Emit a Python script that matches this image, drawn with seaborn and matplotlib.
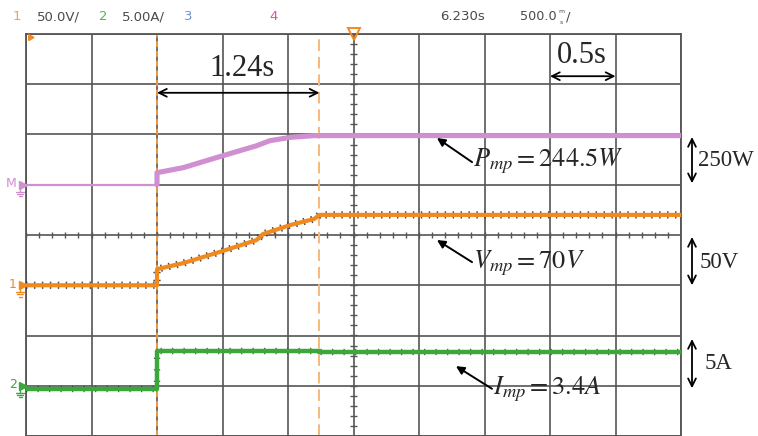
import numpy as np
import pandas as pd
import matplotlib
matplotlib.use("Agg")
import matplotlib.pyplot as plt
import seaborn as sns

# ---- captured waveforms (time in seconds, 500 ms/div) ----
t_power = [0.0, 1.0, 1.0, 1.2, 1.5, 1.76, 1.86, 2.02, 2.2, 5.0]
p_watt = [0, 0, 60, 85, 144, 194, 219, 236, 244.5, 244.5]

t_volt = [0.0, 1.0, 1.0, 1.2, 1.5, 1.76, 1.81, 2.02, 2.2, 2.24, 5.0]
v_volt = [0, 0, 16, 22, 34, 45, 51, 60, 66, 70, 70]

t_curr = [0.0, 1.0, 1.0, 2.24, 2.24, 5.0]
i_amp = [-0.3, -0.3, 3.5, 3.5, 3.4, 3.4]

cursor_times = [1.0, 2.24]

# vertical settings: units per division and ground-marker position (div)
power_scale, power_offset = 250.0, 1.0
volt_scale, volt_offset = 50.0, -1.0
curr_scale, curr_offset = 5.0, -3.0

header_items = [("1", "50.0V/"), ("2", "5.00A/"), ("3", ""), ("4", "")]
time_pos, time_base = "6.230s", "500.0"

C_PINK = "#cf8fd0"
C_ORANGE = "#f08a1e"
C_GREEN = "#3aa83a"
C_GRID = "#555555"


def to_div(values, scale, offset):
    return [v / scale + offset for v in values]


df_p = pd.DataFrame({"t": t_power, "div": to_div(p_watt, power_scale, power_offset)})
df_v = pd.DataFrame({"t": t_volt, "div": to_div(v_volt, volt_scale, volt_offset)})
df_i = pd.DataFrame({"t": t_curr, "div": to_div(i_amp, curr_scale, curr_offset)})

sns.set_style("white")
plt.rcParams["mathtext.fontset"] = "stix"
plt.rcParams["font.family"] = ["DejaVu Sans"]

fig = plt.figure(figsize=(7.58, 4.36), dpi=100)
ax = fig.add_axes([26 / 758, 0.0, 655 / 758, 402 / 436])
ax.set_xlim(0, 5)
ax.set_ylim(-4, 4)

# graticule
ax.set_xticks(np.arange(0, 5.01, 0.5))
ax.set_yticks(np.arange(-4, 4.01, 1))
ax.grid(True, color=C_GRID, lw=1.2)
ax.tick_params(length=0, labelbottom=False, labelleft=False)
for s in ax.spines.values():
    s.set_color(C_GRID)
    s.set_linewidth(1.3)
ax.set_axisbelow(True)

# minor ticks on centre lines
xt = np.arange(0, 5.001, 0.1)
ax.vlines(xt, -0.06, 0.06, color=C_GRID, lw=1.0, zorder=1)
yt = np.arange(-4, 4.001, 0.2)
ax.hlines(yt, 2.5 - 0.025, 2.5 + 0.025, color=C_GRID, lw=1.0, zorder=1)

# cursors
ax.axvline(cursor_times[0], color="#f0993a", ls=(0, (3, 2)), lw=1.4, zorder=2)
ax.axvline(cursor_times[1], color="#f8b87a", ls=(0, (6, 3)), lw=1.4, zorder=2)

# math channel (power)
sns.lineplot(data=df_p.iloc[:2], x="t", y="div", color=C_PINK, lw=1.6,
             estimator=None, sort=False, ax=ax, zorder=3)
sns.lineplot(data=df_p.iloc[1:], x="t", y="div", color=C_PINK, lw=3.7,
             estimator=None, sort=False, ax=ax, zorder=3)

# channel 1 (voltage): dark sample fringe under the trace
sns.lineplot(data=df_v, x="t", y="div", color="#2a2a2a", lw=5.2, alpha=0.85,
             estimator=None, sort=False, ax=ax, zorder=3,
             linestyle=(0, (0.2, 0.9)))
sns.lineplot(data=df_v, x="t", y="div", color=C_ORANGE, lw=3.0,
             estimator=None, sort=False, ax=ax, zorder=4)

# channel 2 (current)
sns.lineplot(data=df_i, x="t", y="div", color="#2a2a2a", lw=4.6, alpha=0.8,
             estimator=None, sort=False, ax=ax, zorder=3,
             linestyle=(0, (0.2, 1.6)))
sns.lineplot(data=df_i, x="t", y="div", color=C_GREEN, lw=3.2,
             estimator=None, sort=False, ax=ax, zorder=4)
ax.set_xlabel("")
ax.set_ylabel("")

# ground markers at the left edge
px_t, px_d = 1 / 131.0, 1 / 50.25
for lbl, off, col in [("M", power_offset, C_PINK), ("1", volt_offset, C_ORANGE),
                      ("2", curr_offset, C_GREEN)]:
    ax.plot([-0.02], [off], marker=">", color=col, ms=6, clip_on=False, zorder=5)
    ax.text(-0.07, off + 0.02, lbl, color=col, fontsize=9, ha="right", va="center",
            clip_on=False)
    # earth symbol
    gx = -0.045
    ax.plot([gx, gx], [off - 1 * px_d, off - 7 * px_d], color=col, lw=1.0, clip_on=False)
    for k, half in enumerate([4, 2.7, 1.4]):
        yy = off - (7 + 2.2 * k) * px_d
        ax.plot([gx - half * px_t, gx + half * px_t], [yy, yy], color=col, lw=1.0,
                clip_on=False)

# trigger position and top-left marker
ax.plot([2.5], [4.0], marker="v", mfc="none", mec=C_ORANGE, ms=8, mew=1.4,
        clip_on=False, zorder=5)
ax.plot([0.03], [3.95], marker=(3, 0, 30), color=C_ORANGE, ms=5, clip_on=False, zorder=5)

# header line
hy = 1 - 17 / 436
header_x = [(17, 37), (103, 122), (188, None), (274, None)]
header_col = ["#f0a050", "#4cbb4c", "#6f8fd0", "#e2509f"]
for (num, txt), (xn, xt_), col in zip(header_items, header_x, header_col):
    fig.text(xn / 758, hy, num, color=col, fontsize=9.5, ha="center", va="center")
    if txt:
        fig.text(xt_ / 758, hy, txt, color="#4a4a4a", fontsize=9.5, ha="left", va="center")
fig.text(440 / 758, hy, time_pos, color="#4a4a4a", fontsize=9.5, ha="left", va="center")
fig.text(520 / 758, hy, time_base, color="#4a4a4a", fontsize=9.2, ha="left", va="center")
fig.text(561.5 / 758, hy + 0.013, "m", color="#4a4a4a", fontsize=4.5, ha="center", va="center")
fig.text(561.5 / 758, hy - 0.012, "s", color="#4a4a4a", fontsize=4.5, ha="center", va="center")
fig.text(565.5 / 758, hy, "/", color="#4a4a4a", fontsize=9.5, ha="left", va="center")

# time span annotations
serif = "Liberation Serif"
arrow2 = dict(arrowstyle="<->", color="black", lw=1.3, shrinkA=0, shrinkB=0,
              mutation_scale=14)
span = cursor_times[1] - cursor_times[0]
ax.annotate("", xy=(cursor_times[0], 2.83), xytext=(cursor_times[1], 2.83),
            arrowprops=arrow2, annotation_clip=False)
ax.text((cursor_times[0] + cursor_times[1]) / 2 + 0.03, 3.32, f"{span:.2f}s",
        family=serif, fontsize=22, ha="center", va="center")
ax.annotate("", xy=(4.0, 3.16), xytext=(4.5, 3.16), arrowprops=arrow2,
            annotation_clip=False)
ax.text(4.24, 3.57, "0.5s", family=serif, fontsize=22, ha="center", va="center")

# value call-outs
arrow1 = dict(arrowstyle="-|>", color="black", lw=1.4, shrinkA=0, shrinkB=0,
              mutation_scale=12)
p_mp, v_mp, i_mp = p_watt[-1], v_volt[-1], i_amp[-1]
ax.annotate("", xy=(3.137, 1.93), xytext=(3.405, 1.45), arrowprops=arrow1)
ax.text(3.41, 1.47, rf"$P_{{mp}}=%gW$" % p_mp, fontsize=19, ha="left", va="center")
ax.annotate("", xy=(3.137, -0.10), xytext=(3.405, -0.54), arrowprops=arrow1)
ax.text(3.41, -0.57, rf"$V_{{mp}}=%gV$" % v_mp, fontsize=19, ha="left", va="center")
ax.annotate("", xy=(3.282, -2.61), xytext=(3.557, -3.06), arrowprops=arrow1)
ax.text(3.565, -3.08, rf"$I_{{mp}}=%gA$" % i_mp, fontsize=19, ha="left", va="center")

# scale bars on the right
for y0, y1, lbl, ty, tx in [(1.95, 1.03, "250W", 1.49, 5.13),
                             (-0.04, -1.0, "50V", -0.54, 5.145),
                             (-2.07, -3.05, "5A", -2.55, 5.18)]:
    ax.annotate("", xy=(5.084, y0), xytext=(5.084, y1), arrowprops=arrow2,
                annotation_clip=False)
    ax.text(tx, ty, lbl, family=serif, fontsize=16.5, ha="left", va="center",
            clip_on=False)

fig.savefig("out.png", dpi=100)
